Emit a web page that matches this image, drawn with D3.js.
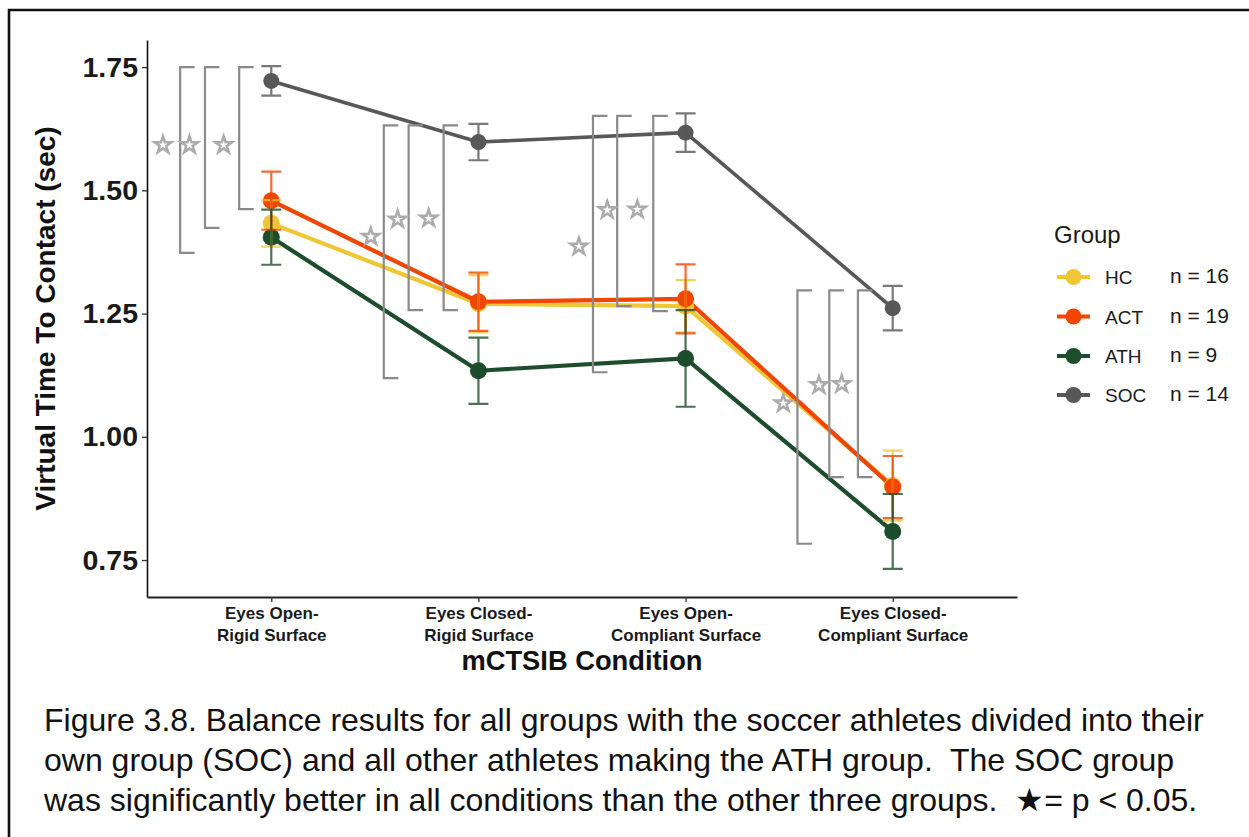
<!DOCTYPE html>
<html>
<head>
<meta charset="utf-8">
<script src="https://cdn.jsdelivr.net/npm/d3@7"></script>
<style>
  body { margin: 0; background: #fff; }
  svg { display: block; }
  .caption { white-space: pre; }
</style>
</head>
<body>
<svg id="chart" width="1249" height="837"></svg>
<script>
// ---- data -------------------------------------------------------------
const conditions = [
  "Eyes Open-\nRigid Surface",
  "Eyes Closed-\nRigid Surface",
  "Eyes Open-\nCompliant Surface",
  "Eyes Closed-\nCompliant Surface"
];
const groups = ["HC", "ACT", "ATH", "SOC"];
const groupN = [16, 19, 9, 14];
const groupColors = ["#efc634", "#f04600", "#1d4d2c", "#585858"];

// mean virtual time to contact (sec) and error half-widths per condition
const hcMean  = [1.433, 1.270, 1.265, 0.901];
const hcErr   = [0.047, 0.058, 0.053, 0.071];
const actMean = [1.479, 1.274, 1.280, 0.898];
const actErr  = [0.059, 0.059, 0.070, 0.063];
const athMean = [1.405, 1.134, 1.159, 0.808];
const athErr  = [0.056, 0.067, 0.098, 0.076];
const socMean = [1.722, 1.598, 1.617, 1.261];
const socErr  = [0.030, 0.037, 0.039, 0.045];

const yTicks = [0.75, 1.00, 1.25, 1.50, 1.75];

// significance brackets: x in condition units (1 = first condition)
const bracketX      = [0.560, 0.680, 0.845,  1.543, 1.663, 1.832,  2.553, 2.670, 2.844,  3.540, 3.694, 3.832];
const bracketTop    = [1.750, 1.750, 1.750,  1.632, 1.632, 1.632,  1.651, 1.651, 1.651,  1.297, 1.297, 1.297];
const bracketBottom = [1.373, 1.424, 1.462,  1.119, 1.257, 1.257,  1.131, 1.265, 1.255,  0.783, 0.918, 0.918];
const starX = [0.477, 0.605, 0.770,  1.480, 1.610, 1.760,  2.485, 2.622, 2.767,  3.472, 3.644, 3.754];
const starY = [1.592, 1.592, 1.592,  1.406, 1.441, 1.443,  1.386, 1.460, 1.461,  1.068, 1.105, 1.107];

const captionLines = [
  "Figure 3.8. Balance results for all groups with the soccer athletes divided into their",
  "own group (SOC) and all other athletes making the ATH group.  The SOC group",
  "was significantly better in all conditions than the other three groups.  \u2605= p < 0.05."
];

// ---- assemble series -------------------------------------------------
const means = [hcMean, actMean, athMean, socMean];
const errs  = [hcErr, actErr, athErr, socErr];
const series = groups.map((g, gi) => ({
  name: g, n: groupN[gi], color: groupColors[gi],
  values: conditions.map((c, ci) => ({ cond: c, mean: means[gi][ci], err: errs[gi][ci] }))
}));

// ---- layout ------------------------------------------------------------
const svg = d3.select("#chart");
const panel = { left: 147, right: 1017, top: 40, bottom: 597 };
const fontMain = "'Liberation Sans', Arial, Helvetica, sans-serif";

svg.append("rect").attr("width", 1249).attr("height", 837).attr("fill", "#fff");

// frame around the figure
svg.append("path")
  .attr("d", "M9,837 V10 H1249")
  .attr("fill", "none").attr("stroke", "#111").attr("stroke-width", 2.6);

const x = d3.scalePoint().domain(conditions).range([panel.left, panel.right]).padding(0.6);
const xc = d3.scaleLinear().domain([0.4, 4.6]).range([panel.left, panel.right]);
const y = d3.scaleLinear().domain([0.675, 1.805]).range([panel.bottom, panel.top]);

// ---- axes --------------------------------------------------------------
const yAxis = svg.append("g")
  .attr("transform", `translate(${panel.left},0)`)
  .call(d3.axisLeft(y).tickValues(yTicks).tickFormat(d3.format(".2f")).tickSize(5).tickSizeOuter(0).tickPadding(4));
yAxis.select(".domain").attr("stroke", "#111").attr("stroke-width", 1.6);
yAxis.selectAll(".tick line").attr("stroke", "#333").attr("stroke-width", 1.3);
yAxis.selectAll(".tick text")
  .attr("font-family", fontMain).attr("font-weight", "bold")
  .attr("font-size", 28.5).attr("fill", "#1a1a1a");

const xAxis = svg.append("g")
  .attr("transform", `translate(0,${panel.bottom})`)
  .call(d3.axisBottom(x).tickSize(5).tickSizeOuter(0).tickPadding(5));
xAxis.select(".domain").attr("stroke", "#222").attr("stroke-width", 2);
xAxis.selectAll(".tick line").attr("stroke", "#333").attr("stroke-width", 1.3);
xAxis.selectAll(".tick text").each(function (d) {
  const t = d3.select(this).text(null)
    .attr("font-family", fontMain).attr("font-weight", "bold")
    .attr("font-size", 17).attr("fill", "#1a1a1a")
    .attr("y", 0).attr("dy", null);
  d.split("\n").forEach((line, i) => {
    t.append("tspan").attr("x", 0).attr("y", 22 + i * 21.5).text(line);
  });
});

// axis titles
svg.append("text")
  .attr("x", 582).attr("y", 670)
  .attr("text-anchor", "middle")
  .attr("font-family", fontMain).attr("font-weight", "bold").attr("font-size", 27.3)
  .attr("fill", "#111").text("mCTSIB Condition");

svg.append("text")
  .attr("transform", `translate(55,${(panel.top + panel.bottom) / 2}) rotate(-90)`)
  .attr("text-anchor", "middle")
  .attr("font-family", fontMain).attr("font-weight", "bold").attr("font-size", 28)
  .attr("fill", "#111").text("Virtual Time To Contact (sec)");

// ---- series ------------------------------------------------------------
const line = d3.line().x(d => x(d.cond)).y(d => y(d.mean));

svg.append("g").selectAll("path").data(series).join("path")
  .attr("d", s => line(s.values))
  .attr("fill", "none")
  .attr("stroke", s => s.color)
  .attr("stroke-width", s => s.name === "SOC" ? 3.6 : 4.2)
  .attr("stroke-linejoin", "round");

// significance brackets
const arm = 0.07;
svg.append("g").selectAll("path").data(bracketX.map((bx, i) => ({ x: bx, top: bracketTop[i], bottom: bracketBottom[i] })))
  .join("path")
  .attr("d", b => `M${xc(b.x + arm)},${y(b.top)} H${xc(b.x)} V${y(b.bottom)} H${xc(b.x + arm)}`)
  .attr("fill", "none").attr("stroke", "#8a8a8a").attr("stroke-width", 2.2);

// points
svg.append("g").selectAll("g").data(series).join("g")
  .selectAll("circle").data(s => s.values.map(v => ({ ...v, color: s.color, name: s.name })))
  .join("circle")
  .attr("cx", d => x(d.cond)).attr("cy", d => y(d.mean))
  .attr("r", d => d.name === "SOC" ? 8 : 8.5)
  .attr("fill", d => d.color);

// error bars
const cap = 10;
const ebar = svg.append("g").selectAll("g").data(series).join("g")
  .attr("stroke", s => s.color).attr("stroke-opacity", 0.8).attr("stroke-width", 2.2).attr("fill", "none");
ebar.selectAll("path").data(s => s.values).join("path")
  .attr("d", d => {
    const cx = x(d.cond), y0 = y(d.mean - d.err), y1 = y(d.mean + d.err);
    return `M${cx - cap},${y1} H${cx + cap} M${cx},${y1} V${y0} M${cx - cap},${y0} H${cx + cap}`;
  });

// significance stars
const star = d3.symbol().type(d3.symbolStar).size(88);
svg.append("g").selectAll("path").data(starX.map((sx, i) => ({ x: sx, y: starY[i] })))
  .join("path")
  .attr("transform", d => `translate(${xc(d.x)},${y(d.y)})`)
  .attr("d", star)
  .attr("fill", "#fff").attr("stroke", "#ababab").attr("stroke-width", 2.5)
  .attr("stroke-linejoin", "miter");

// ---- legend ------------------------------------------------------------
const legend = svg.append("g").attr("transform", "translate(1054,0)");
legend.append("text").attr("x", 0).attr("y", 243)
  .attr("font-family", fontMain).attr("font-size", 24).attr("fill", "#1a1a1a").text("Group");
const items = legend.selectAll("g.item").data(series).join("g")
  .attr("class", "item")
  .attr("transform", (s, i) => `translate(0,${[277, 316.5, 356, 395][i]})`);
items.append("line").attr("x1", 3).attr("x2", 36).attr("y1", 0).attr("y2", 0)
  .attr("stroke", s => s.color).attr("stroke-width", 4.2);
items.append("circle").attr("cx", 19.5).attr("cy", 0).attr("r", 8).attr("fill", s => s.color);
items.append("text").attr("x", 51).attr("y", 7)
  .attr("font-family", fontMain).attr("font-size", 19).attr("fill", "#1a1a1a").text(s => s.name);
items.append("text").attr("x", 116).attr("y", 6)
  .attr("font-family", fontMain).attr("font-size", 21).attr("fill", "#1a1a1a").text(s => `n = ${s.n}`);

// ---- caption -----------------------------------------------------------
svg.append("g").selectAll("text").data(captionLines).join("text")
  .attr("class", "caption")
  .attr("x", 44).attr("y", (d, i) => 731 + i * 40)
  .attr("font-family", fontMain).attr("font-size", 32).attr("fill", "#111")
  .text(d => d);
</script>
</body>
</html>
